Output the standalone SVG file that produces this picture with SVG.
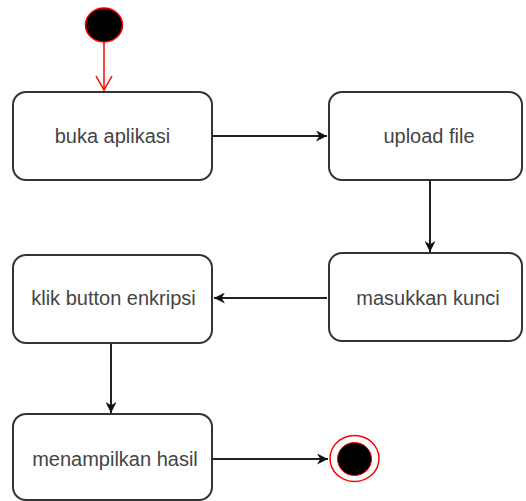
<svg xmlns="http://www.w3.org/2000/svg" width="526" height="501" viewBox="0 0 526 501">
<style>
.box{fill:#fff;stroke:#333;stroke-width:2}
.lbl{font-family:"Liberation Sans",Arial,sans-serif;font-size:20px;fill:#444;text-anchor:middle}
.edge{stroke:#222;stroke-width:2;fill:none}
</style>
<defs>
<marker id="arr" viewBox="0 0 10 10" refX="10" refY="5" markerWidth="11" markerHeight="11" markerUnits="userSpaceOnUse" orient="auto">
<path d="M0,0 L10,5 L0,10 L3,5 Z" fill="#111"/>
</marker>
</defs>
<rect width="526" height="501" fill="#fff"/>
<g id="connectors">
<line x1="104" y1="42" x2="104" y2="90" stroke="#f00" stroke-width="1.5"/>
<polyline points="96,76 104,90 112,76" fill="none" stroke="#f00" stroke-width="1.5"/>
<line class="edge" x1="213" y1="136" x2="327" y2="136" marker-end="url(#arr)"/>
<line class="edge" x1="430" y1="181" x2="430" y2="252" marker-end="url(#arr)"/>
<line class="edge" x1="327" y1="298" x2="214" y2="298" marker-end="url(#arr)"/>
<line class="edge" x1="111" y1="343" x2="111" y2="413" marker-end="url(#arr)"/>
<line class="edge" x1="213" y1="459" x2="328" y2="459" marker-end="url(#arr)"/>
</g>
<g id="start">
<ellipse cx="104" cy="25" rx="18.5" ry="17" fill="#000" stroke="#f00" stroke-width="1.5"/>
</g>
<g id="buka">
<rect class="box" x="13" y="92" width="199" height="88" rx="13"/>
<text class="lbl" x="112.5" y="143">buka aplikasi</text>
</g>
<g id="upload">
<rect class="box" x="329" y="92" width="193" height="88" rx="13"/>
<text class="lbl" x="429" y="143">upload file</text>
</g>
<g id="masukkan">
<rect class="box" x="329" y="253" width="193" height="88" rx="13"/>
<text class="lbl" x="428" y="305">masukkan kunci</text>
</g>
<g id="klik">
<rect class="box" x="13" y="255" width="199" height="88" rx="13"/>
<text class="lbl" x="113.5" y="305">klik button enkripsi</text>
</g>
<g id="menampilkan">
<rect class="box" x="13" y="414" width="199" height="86" rx="13"/>
<text class="lbl" x="115" y="466">menampilkan hasil</text>
</g>
<g id="end">
<ellipse cx="354.5" cy="458.5" rx="24.5" ry="23" fill="#fff" stroke="#f00" stroke-width="1.5"/>
<ellipse cx="354.5" cy="459" rx="17" ry="16.5" fill="#000" stroke="#f00" stroke-width="1"/>
</g>
</svg>
